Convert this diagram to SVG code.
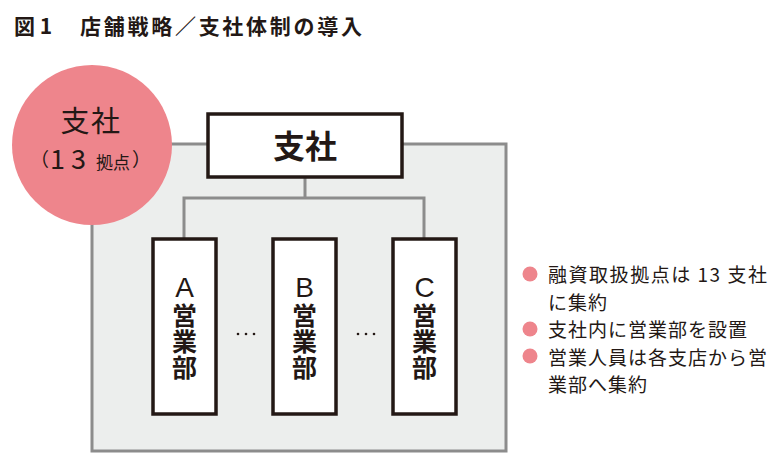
<svg xmlns="http://www.w3.org/2000/svg" width="780" height="459" viewBox="0 0 780 459">
<style>
text{font-family:"Noto Sans CJK JP","Noto Sans",sans-serif;fill:#231815}
.title{font-size:21px;font-weight:bold}
.unit{fill:#fff;stroke:#231815;stroke-width:3.5}
.conn{fill:none;stroke:#8c8c8c;stroke-width:3}
.v{font-size:25px;font-weight:bold;writing-mode:vertical-rl;letter-spacing:1px}
.lat{font-family:"Liberation Sans",Arial,sans-serif;font-size:28px;text-anchor:middle}
.note{font-size:19px;letter-spacing:1px}
.dot{fill:#ee858c}
</style>
<rect width="780" height="459" fill="#fff"/>
<g id="title">
<text class="title" x="14" y="34">図 1</text>
<text class="title" x="80" y="34" textLength="282" lengthAdjust="spacing">店舗戦略／支社体制の導入</text>
</g>
<g id="frame">
<rect x="92" y="144" width="414" height="307" fill="#eceeed" stroke="#8c8c8c" stroke-width="3"/>
</g>
<g id="circle">
<circle cx="92" cy="145" r="80" fill="#ee858c"/>
<text x="91" y="132" font-size="29" font-weight="400" text-anchor="middle" letter-spacing="1.5">支社</text>
<text x="30" y="167" font-size="19">（</text>
<text x="50" y="169" font-family="Liberation Sans,Arial,sans-serif" font-size="27" letter-spacing="6">13</text>
<text x="96" y="169" font-size="17">拠点</text>
<text x="132" y="167" font-size="19">）</text>
</g>
<g id="connectors">
<path class="conn" d="M305 177V198M184 239V198H424V239"/>
</g>
<g id="hq">
<rect class="unit" x="208" y="114" width="194" height="63"/>
<text x="305" y="158" font-size="32" font-weight="bold" text-anchor="middle">支社</text>
</g>
<g id="unitA">
<rect class="unit" x="153" y="239" width="63" height="175"/>
<text class="lat" x="184.5" y="297">A</text>
<text class="v" x="184.5" y="303">営業部</text>
</g>
<g id="unitB">
<rect class="unit" x="273" y="239" width="63" height="175"/>
<text class="lat" x="304.5" y="297">B</text>
<text class="v" x="304.5" y="303">営業部</text>
</g>
<g id="unitC">
<rect class="unit" x="393" y="239" width="63" height="175"/>
<text class="lat" x="424.5" y="297">C</text>
<text class="v" x="424.5" y="303">営業部</text>
</g>
<g id="ellipses" fill="#231815">
<circle cx="238" cy="334" r="1.3"/><circle cx="246" cy="334" r="1.3"/><circle cx="254" cy="334" r="1.3"/>
<circle cx="358" cy="334" r="1.3"/><circle cx="366" cy="334" r="1.3"/><circle cx="374" cy="334" r="1.3"/>
</g>
<g id="notes">
<circle class="dot" cx="530" cy="274" r="7.5"/>
<text class="note" x="548" y="282" textLength="220" lengthAdjust="spacing">融資取扱拠点は 13 支社</text>
<text class="note" x="548" y="310">に集約</text>
<circle class="dot" cx="530" cy="329" r="7.5"/>
<text class="note" x="548" y="337">支社内に営業部を設置</text>
<circle class="dot" cx="530" cy="356" r="7.5"/>
<text class="note" x="548" y="365" textLength="220" lengthAdjust="spacing">営業人員は各支店から営</text>
<text class="note" x="548" y="392">業部へ集約</text>
</g>
</svg>
